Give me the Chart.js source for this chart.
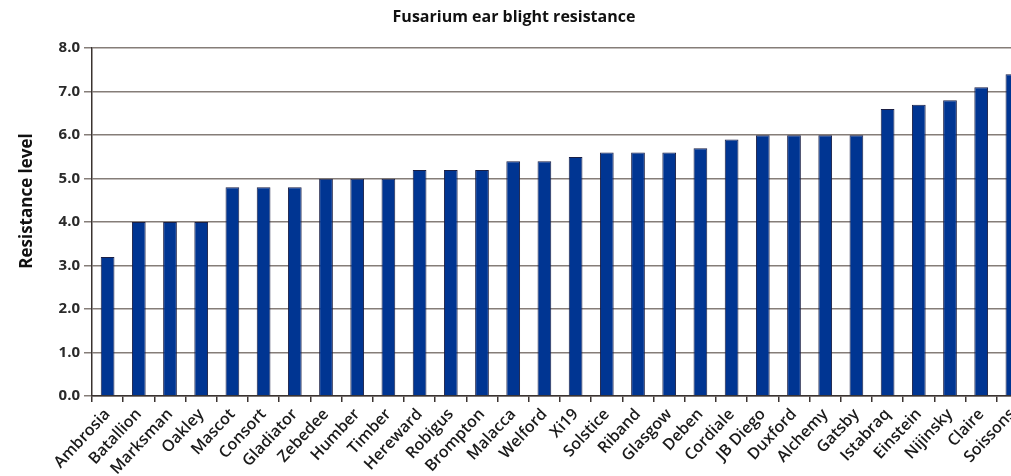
<!DOCTYPE html>
<html>
<head>
<meta charset="utf-8">
<script src="https://cdn.jsdelivr.net/npm/chart.js@4"></script>
<style>
    html, body { margin: 0; padding: 0; background: #fff; overflow: hidden; }
    #wrap { width: 1030px; height: 476px; }
</style>
</head>
<body>
<div id="wrap"><canvas id="chart" width="1030" height="476"></canvas></div>
<script>
// ======================
// DATA
// ======================
const varieties = [
    "Ambrosia", "Batallion", "Marksman", "Oakley", "Mascot", "Consort",
    "Gladiator", "Zebedee", "Humber", "Timber", "Hereward", "Robigus",
    "Brompton", "Malacca", "Welford", "Xi19", "Solstice", "Riband",
    "Glasgow", "Deben", "Cordiale", "JB Diego", "Duxford", "Alchemy",
    "Gatsby", "Istabraq", "Einstein", "Nijinsky", "Claire", "Soissons"
];
const resistance = [
    3.2, 4.0, 4.0, 4.0, 4.8, 4.8,
    4.8, 5.0, 5.0, 5.0, 5.2, 5.2,
    5.2, 5.4, 5.4, 5.5, 5.6, 5.6,
    5.6, 5.7, 5.9, 6.0, 6.0, 6.0,
    6.0, 6.6, 6.7, 6.8, 7.1, 7.4
];
const chartTitle = "Fusarium ear blight resistance";
const yTitle = "Resistance level";

const FONT = "'Open Sans', 'DejaVu Sans', sans-serif";

// y axis title sits a bit above the plot centre in the original
const yTitlePlugin = {
    id: "yTitle",
    afterDraw(c) {
        const ctx = c.ctx;
        ctx.save();
        ctx.translate(27, 201);
        ctx.rotate(-Math.PI / 2);
        ctx.font = "bold 17px " + FONT;
        ctx.fillStyle = "#111";
        ctx.textAlign = "center";
        ctx.textBaseline = "middle";
        ctx.fillText(yTitle, 0, 0);
        ctx.restore();
    }
};

new Chart(document.getElementById("chart"), {
    type: "bar",
    data: {
        labels: varieties,
        datasets: [{
            data: resistance,
            backgroundColor: "#003592",
            borderColor: "#1a1f45",
            borderWidth: 1,
            barPercentage: 0.44,
            categoryPercentage: 1.0
        }]
    },
    options: {
        responsive: false,
        animation: false,
        layout: { padding: { left: 0, right: 2, top: 0, bottom: 0 } },
        plugins: {
            legend: { display: false },
            tooltip: { enabled: false },
            title: {
                display: true,
                text: chartTitle,
                color: "#111",
                font: { family: FONT, size: 16, weight: "bold" },
                padding: { top: 8, bottom: 21 }
            }
        },
        scales: {
            x: {
                afterFit: s => { s.height = 80; },
                grid: {
                    offset: true,
                    drawOnChartArea: false,
                    drawTicks: true,
                    tickLength: 6,
                    color: "#3a3330",
                    lineWidth: 1.5
                },
                border: { color: "#3a3330", width: 1.5 },
                ticks: {
                    autoSkip: false,
                    maxRotation: 47,
                    minRotation: 47,
                    padding: 3,
                    color: "#1a1a1a",
                    font: { family: FONT, size: 16, weight: "600" }
                }
            },
            y: {
                min: 0,
                max: 8,
                afterFit: s => { s.width = 92; },
                grid: {
                    color: "#857d78",
                    lineWidth: 1.5,
                    tickLength: 8
                },
                border: { color: "#3a3330", width: 1.5 },
                ticks: {
                    stepSize: 1,
                    padding: 4,
                    color: "#2a2a2a",
                    font: { family: FONT, size: 15, weight: "bold" },
                    callback: v => v.toFixed(1)
                }
            }
        }
    },
    plugins: [yTitlePlugin]
});
</script>
</body>
</html>
